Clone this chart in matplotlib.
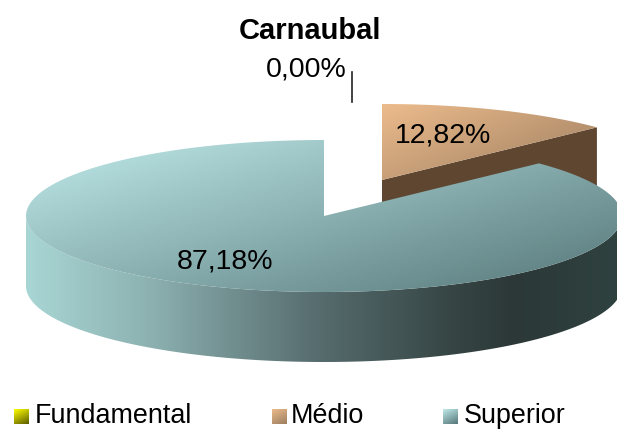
import numpy as np
import matplotlib
matplotlib.use('Agg')
import matplotlib.pyplot as plt
from matplotlib.colors import LinearSegmentedColormap
from matplotlib.patches import Polygon

categories = ['Fundamental', 'Médio', 'Superior']
values = [0.00, 12.82, 87.18]
title = 'Carnaubal'

plt.rcParams['font.family'] = ['Liberation Sans', 'DejaVu Sans']

# pie geometry in pixels
rx, ry, depth = 298, 76, 70
centers = [(352, 175), (382, 180), (324, 216)]
label_pos = [(306, 70), (443, 135), (225, 262)]
legend_x = [14, 272, 443]
legend_text_x = [35, 291, 464]

top_colors = [('#ffff00', '#5a5a00'), ('#ecbb8c', '#9c7e60'), ('#c0eaea', '#557678')]
side_colors = ['#6a6a00', '#5e4631', None]
wall_cmap = LinearSegmentedColormap.from_list(
    'wall', [(0, '#a8d6d4'), (0.21, '#8cb0b0'), (0.48, '#586e70'),
             (0.7, '#384847'), (0.82, '#2b3837'), (1, '#2f4240')])

fig = plt.figure(figsize=(6.17, 4.29), dpi=100)
ax = fig.add_axes([0, 0, 1, 1])
ax.set_xlim(0, 617)
ax.set_ylim(429, 0)
ax.axis('off')


def rim(c, a, b, dy=0):
    t = np.radians(np.linspace(a, b, 200))
    return np.column_stack([c[0] + rx * np.sin(t), c[1] - ry * np.cos(t) + dy])


def gradient(poly, colors, angle=None, cmap=None, z=2):
    # fill the polygon with a linear gradient by clipping an image to it
    x0, y0 = poly.min(axis=0)
    x1, y1 = poly.max(axis=0)
    xx, yy = np.meshgrid(np.linspace(0, 1, 300), np.linspace(0, 1, 300))
    if angle is None:
        g = xx
    else:
        g = (xx * np.cos(angle) + yy * np.sin(angle)) / (np.cos(angle) + np.sin(angle))
    if cmap is None:
        cmap = LinearSegmentedColormap.from_list('g', colors)
    im = ax.imshow(g, extent=[x0, x1, y1, y0], cmap=cmap, vmin=0, vmax=1,
                   aspect='auto', zorder=z, interpolation='bilinear')
    im.set_clip_path(Polygon(poly, transform=ax.transData))


# slices clockwise from the top, zero sized ones draw nothing
start = 0
for i, v in enumerate(values):
    span = v / sum(values) * 360
    if span > 0:
        c = centers[i]
        end = start + span
        z = 2 + i * 2
        # cut face on the far side of the gap
        if i < len(values) - 1:
            edge = rim(c, end, end)[0]
            face = np.array([c, edge, edge + [0, depth], [c[0], c[1] + depth]])
            ax.add_patch(Polygon(face, color=side_colors[i], zorder=z, lw=0))
        # outer wall, only the front half shows
        a, b = max(start, 90), min(end, 270)
        if a < b:
            wall = np.vstack([rim(c, a, b), rim(c, b, a, depth)])
            gradient(wall[::-1], None, cmap=wall_cmap, z=z)
        top = np.vstack([c, rim(c, start, end)])
        gradient(top, top_colors[i], angle=0.7, z=z + 1)
        start = end

for i, v in enumerate(values):
    ax.text(label_pos[i][0], label_pos[i][1], f'{v:.2f}%'.replace('.', ','),
            fontsize=20.5, ha='center', va='center', color='black', zorder=20)

# leader line of the empty slice
ax.plot([352, 352], [72, 102], color='#222222', lw=1.2, zorder=20)

ax.text(310, 31, title, fontsize=21, fontweight='bold', ha='center', va='center', zorder=20)

for i, name in enumerate(categories):
    x = legend_x[i]
    sq = np.array([(x, 409), (x + 15, 409), (x + 15, 424), (x, 424)], dtype=float)
    gradient(sq, top_colors[i], angle=1.1, z=20)
    ax.text(legend_text_x[i], 416, name, fontsize=19.4, ha='left', va='center', zorder=20)

ax.set_xlim(0, 617)
ax.set_ylim(429, 0)
fig.savefig('out.png', dpi=100)
